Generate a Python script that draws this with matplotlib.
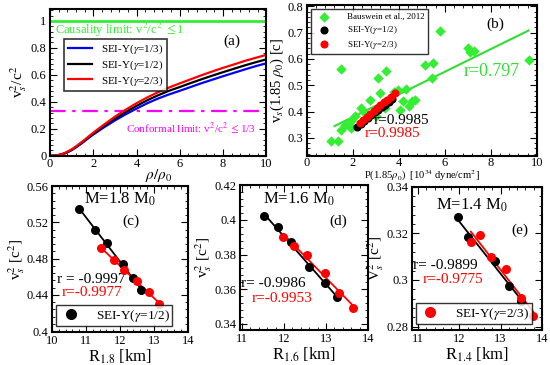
import numpy as np
import matplotlib
matplotlib.use("Agg")
import matplotlib.pyplot as plt
from matplotlib.ticker import AutoMinorLocator, MultipleLocator

plt.rcParams["font.family"] = ["Liberation Serif", "DejaVu Serif"]
plt.rcParams["mathtext.fontset"] = "stix"

# ---- panel (a): speed of sound vs density ----
rho = [0, 0.25, 0.5, 0.75, 1, 1.25, 1.5, 1.75, 2, 2.5, 3, 3.5, 4, 4.5, 5, 5.5, 6, 6.5, 7, 7.5, 8, 8.5, 9, 9.5, 10]
cs2_g13 = [0, 0.002, 0.008, 0.022, 0.042, 0.068, 0.097, 0.128, 0.158, 0.212, 0.262, 0.308, 0.35,
           0.39, 0.425, 0.455, 0.482, 0.51, 0.538, 0.564, 0.59, 0.615, 0.64, 0.664, 0.686]
cs2_g12 = [0, 0.002, 0.009, 0.024, 0.045, 0.072, 0.102, 0.134, 0.165, 0.222, 0.276, 0.325, 0.37,
           0.412, 0.449, 0.482, 0.51, 0.539, 0.567, 0.594, 0.62, 0.645, 0.67, 0.693, 0.715]
cs2_g23 = [0, 0.002, 0.01, 0.026, 0.048, 0.076, 0.107, 0.139, 0.172, 0.232, 0.29, 0.342, 0.39,
           0.433, 0.472, 0.506, 0.537, 0.567, 0.597, 0.625, 0.652, 0.677, 0.703, 0.726, 0.748]

# ---- panel (b): v_s(1.85 rho0) vs P(1.85 rho0) ----
baus_p = [1.06, 1.35, 1.47, 1.5, 1.64, 1.86, 1.93, 1.93, 2.08, 2.37, 2.5, 2.73, 3.02, 3.1, 3.17,
          3.39, 3.46, 3.8, 3.97, 4.07, 4.19, 4.3, 4.45, 4.55, 4.7, 5.13, 5.42, 5.49, 5.78, 7.02,
          7.09, 7.27, 9.64]
baus_v = [0.287, 0.287, 0.329, 0.563, 0.35, 0.344, 0.363, 0.338, 0.382, 0.414, 0.40, 0.446, 0.382,
          0.528, 0.471, 0.414, 0.553, 0.475, 0.484, 0.408, 0.439, 0.487, 0.421, 0.439, 0.446, 0.576,
          0.528, 0.585, 0.705, 0.643, 0.627, 0.631, 0.598]
baus_fit_p = [1.2, 9.64]
baus_fit_v = [0.345, 0.708]
b_p12 = [2.2, 2.35, 2.5, 2.65, 2.8, 2.95, 3.1, 3.25, 3.4, 3.55, 3.7]
b_v12 = [0.343, 0.354, 0.365, 0.376, 0.386, 0.397, 0.407, 0.417, 0.427, 0.437, 0.447]
b_p23 = [2.3, 2.45, 2.6, 2.75, 2.9, 3.05, 3.2, 3.35, 3.5, 3.65, 3.83]
b_v23 = [0.358, 0.369, 0.38, 0.391, 0.402, 0.413, 0.424, 0.435, 0.446, 0.456, 0.469]

# ---- panels (c)-(e): v_s^2 vs radius ----
c_r12 = [10.79, 11.27, 11.61, 12.08, 12.38, 12.62]
c_v12 = [0.535, 0.512, 0.497, 0.474, 0.459, 0.445]
c_r23 = [11.44, 11.83, 12.13, 12.5, 12.87, 13.14]
c_v23 = [0.492, 0.478, 0.467, 0.455, 0.443, 0.430]

d_r12 = [11.53, 11.86, 12.16, 12.59, 12.98, 13.27]
d_v12 = [0.402, 0.3957, 0.387, 0.373, 0.3634, 0.3556]
d_r23 = [11.98, 12.25, 12.55, 12.98, 13.32, 13.65]
d_v23 = [0.390, 0.3849, 0.380, 0.3693, 0.3576, 0.3492]

e_r12 = [11.96, 12.2, 12.87, 13.2, 13.5]
e_v12 = [0.3271, 0.3183, 0.3081, 0.2974, 0.2911]
e_r23 = [12.28, 12.49, 12.77, 13.13, 13.5, 13.79]
e_v23 = [0.3164, 0.3193, 0.31, 0.3047, 0.2921, 0.2847]

TICK = 9


def style(ax, xmaj, ymaj):
    ax.xaxis.set_major_locator(MultipleLocator(xmaj))
    ax.yaxis.set_major_locator(MultipleLocator(ymaj))
    ax.xaxis.set_minor_locator(AutoMinorLocator(5))
    ax.yaxis.set_minor_locator(AutoMinorLocator(5))
    ax.tick_params(which="both", direction="in", top=True, right=True, labelsize=TICK, pad=2.5)
    ax.tick_params(which="major", length=5)
    ax.tick_params(which="minor", length=2.5)
    for s in ax.spines.values():
        s.set_linewidth(1.5)


def fitline(ax, x, y, color):
    k, b = np.polyfit(x, y, 1)
    xs = np.array([min(x), max(x)])
    ax.plot(xs, k * xs + b, color=color, lw=1.3, zorder=2)


fig = plt.figure(figsize=(5.5, 3.65), dpi=100)

# (a)
ax = fig.add_axes([0.091, 0.573, 0.393, 0.403])
ax.axhline(1.0, color="#33ee33", lw=2)
ax.axhline(1 / 3, color="#ff00ff", lw=1.6, ls="-.", dashes=(7, 3, 1.5, 3))
ax.plot(rho, cs2_g13, color="blue", lw=1.6, label=r"SEI-Y($\gamma$=1/3)")
ax.plot(rho, cs2_g12, color="black", lw=1.6, label=r"SEI-Y($\gamma$=1/2)")
ax.plot(rho, cs2_g23, color="red", lw=1.6, label=r"SEI-Y($\gamma$=2/3)")
ax.text(0.25, 0.935, r"Causality limit: v$^2$/c$^2$ $\leq$1", color="#33ee33", fontsize=9, va="center")
ax.text(3.5, 0.2, r"Conformal limit: v$^2$/c$^2$ $\leq$1/3", color="#ff00ff", fontsize=8, va="center")
ax.text(8.0, 0.82, "(a)", fontsize=11)
ax.set_xlim(0, 10)
ax.set_ylim(0, 1.09)
style(ax, 2, 0.2)
ax.set_yticks([0, 0.2, 0.4, 0.6, 0.8, 1.0])
ax.set_yticklabels(["0", "0.2", "0.4", "0.6", "0.8", "1"])
ax.tick_params(axis="x", pad=1.5)
ax.set_xlabel(r"$\rho/\rho_0$", fontsize=11, labelpad=-2)
ax.set_ylabel(r"v$_s^2$/c$^2$", fontsize=11, labelpad=1)
ax.legend(loc="upper left", bbox_to_anchor=(0.04, 0.83), fontsize=8, frameon=True,
          fancybox=False, edgecolor="black", handlelength=2.2, borderpad=0.3,
          labelspacing=0.2).get_frame().set_linewidth(1.2)

# (b)
ax = fig.add_axes([0.558, 0.573, 0.418, 0.414])
ax.plot(baus_fit_p, baus_fit_v, color="#33dd33", lw=1.5)
ax.scatter(baus_p, baus_v, marker="D", s=28, color="#33ee33", lw=0, label="Bauswein et al., 2012", zorder=3)
ax.scatter(b_p12, b_v12, marker="o", s=34, color="black", lw=0, label=r"SEI-Y($\gamma$=1/2)", zorder=4)
ax.scatter(b_p23, b_v23, marker="o", s=34, color="red", lw=0, label=r"SEI-Y($\gamma$=2/3)", zorder=5)
ax.text(6.8, 0.535, "r=0.797", color="#33dd33", fontsize=13)
ax.text(2.9, 0.352, "r=0.9985", color="black", fontsize=11)
ax.text(2.5, 0.302, "r=0.9985", color="red", fontsize=11)
ax.text(7.8, 0.72, "(b)", fontsize=11)
ax.set_xlim(0, 10)
ax.set_ylim(0.232, 0.806)
style(ax, 2, 0.1)
ax.set_xticks([0, 2, 4, 6, 8, 10])
ax.set_yticks([0.3, 0.4, 0.5, 0.6, 0.7, 0.8])
ax.tick_params(axis="x", pad=0.5)
ax.set_xlabel(r"P(1.85$\rho_0$)  [10$^{34}$ dyne/cm$^2$]", fontsize=7.6, labelpad=-0.3)
ax.set_ylabel(r"v$_s$(1.85 $\rho_0$) [c]", fontsize=10.5, labelpad=1)
ax.legend(loc="upper left", bbox_to_anchor=(0.0, 1.0), fontsize=6.5, frameon=True,
          fancybox=False, edgecolor="black", borderpad=0.4, labelspacing=0.3,
          handletextpad=1.5).get_frame().set_linewidth(1.0)


def lower_panel(rect, r12, v12, r23, v23, xlim, ylim, yticks, ylabels, mass, mass_xy, tag, tag_xy,
                r_black, r_red, txt_black, txt_red, xlab, ylab, legend=None):
    ax = fig.add_axes(rect)
    fitline(ax, r12, v12, "black")
    fitline(ax, r23, v23, "red")
    ax.plot(r12, v12, "o", color="black", ms=6.5, mec="none", zorder=3)
    ax.plot(r23, v23, "o", color="red", ms=6.5, mec="none", zorder=4)
    style(ax, 1, yticks[1] - yticks[0])
    ax.set_xticks([10, 11, 12, 13, 14])
    ax.set_xlim(*xlim)
    ax.set_ylim(*ylim)
    ax.set_yticks(yticks)
    ax.set_yticklabels(ylabels)
    ax.text(mass_xy[0], mass_xy[1], mass, transform=ax.transAxes, ha="center", va="center", fontsize=12)
    ax.text(tag_xy[0], tag_xy[1], tag, transform=ax.transAxes, ha="center", va="center", fontsize=11)
    ax.text(txt_black[0], txt_black[1], r_black, transform=ax.transAxes, va="center", fontsize=11)
    ax.text(txt_red[0], txt_red[1], r_red, transform=ax.transAxes, va="center", color="red", fontsize=11)
    ax.set_xlabel(xlab, fontsize=12, labelpad=0)
    ax.set_ylabel(ylab, fontsize=11, labelpad=0)
    if legend is not None:
        h = ax.plot([], [], "o", color=legend[1], ms=8, mec="none")[0]
        lg = ax.legend([h], [legend[0]], loc="lower left", bbox_to_anchor=(0.03, 0.04),
                       fontsize=9.5, frameon=True, fancybox=False, edgecolor="black",
                       handletextpad=1.0, borderpad=0.2, handlelength=1.8, borderaxespad=0)
        lg.get_frame().set_linewidth(1.0)
    return ax


lower_panel([0.0945, 0.0904, 0.247, 0.40], c_r12, c_v12, c_r23, c_v23,
            (10, 14), (0.399, 0.56), [0.4, 0.44, 0.48, 0.52, 0.56],
            ["0.4", "0.44", "0.48", "0.52", "0.56"], r"M=1.8 M$_0$", (0.5, 0.91), "(c)", (0.58, 0.76),
            "r = -0.9997", "r=-0.9977", (0.04, 0.36), (0.07, 0.27),
            r"R$_{1.8}$ [km]", r"v$^2_s$ [c$^2$]", legend=(r"SEI-Y($\gamma$=1/2)", "black"))
lower_panel([0.436, 0.0959, 0.233, 0.397], d_r12, d_v12, d_r23, d_v23,
            (10.95, 14), (0.3365, 0.42), [0.34, 0.36, 0.38, 0.4, 0.42],
            ["0.34", "0.36", "0.38", "0.4", "0.42"], r"M=1.6 M$_0$", (0.46, 0.9), "(d)", (0.77, 0.75),
            "r= -0.9986", "r=-0.9953", (0.01, 0.32), (0.09, 0.22),
            r"R$_{1.6}$ [km]", r"v$^2_s$ [c$^2$]")
lower_panel([0.749, 0.0959, 0.236, 0.392], e_r12, e_v12, e_r23, e_v23,
            (10.85, 14), (0.2785, 0.34), [0.28, 0.3, 0.32, 0.34],
            ["0.28", "0.3", "0.32", "0.34"], r"M=1.4 M$_0$", (0.46, 0.87), "(e)", (0.83, 0.7),
            "r= -0.9899", "r=-0.9775", (0.01, 0.45), (0.08, 0.35),
            r"R$_{1.4}$ [km]", r"V$^2_s$ [c$^2$]", legend=(r"SEI-Y($\gamma$=2/3)", "red"))

fig.savefig("out.png", dpi=100)
